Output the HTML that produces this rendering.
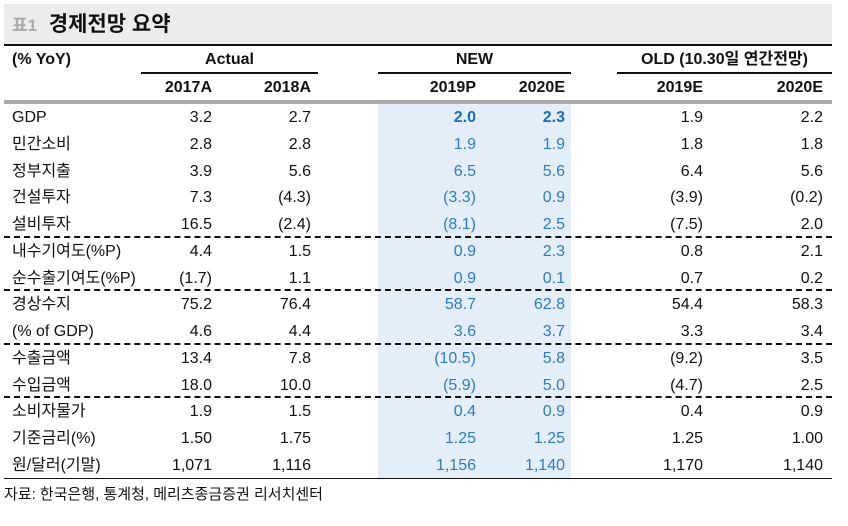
<!DOCTYPE html>
<html><head><meta charset="utf-8"><style>
body{margin:0;width:848px;height:526px;background:#fff;position:relative;overflow:hidden;font-family:"Liberation Sans","Noto Sans CJK KR",sans-serif;color:#111}
.a{position:absolute}
.t{position:absolute;font-size:16px;line-height:20px;white-space:nowrap}
.r{text-align:right}
.b{color:#2f7cc0}
.hd{font-weight:bold;font-size:16px}
.dash{position:absolute;left:4px;width:828px;height:0;border-top:2px dashed #111}
</style></head><body>
<div class="a" style="left:4px;top:4px;width:828px;height:40px;background:#ececec"></div>
<div class="t" style="left:12px;top:12px;font-size:21px;line-height:26px;font-weight:bold"><span style="color:#aaa;font-size:17px">표1</span>&nbsp; 경제전망 요약</div>
<div class="a" style="left:4px;top:44px;width:828px;height:2px;background:#111"></div>
<div class="a" style="left:378px;top:103px;width:193px;height:375px;background:#e4eef9"></div>
<div class="t hd" style="left:12px;top:50px">(% YoY)</div>
<div class="t hd" style="left:141px;width:177px;top:50px;text-align:center">Actual</div>
<div class="t hd" style="left:378px;width:193px;top:50px;text-align:center">NEW</div>
<div class="t hd" style="left:617px;width:215px;top:50px;text-align:center">OLD (10.30일 연간전망)</div>
<div class="a" style="left:141px;top:72px;width:177px;height:2px;background:#111"></div>
<div class="a" style="left:378px;top:72px;width:193px;height:2px;background:#111"></div>
<div class="a" style="left:617px;top:72px;width:215px;height:2px;background:#111"></div>
<div class="t hd r" style="left:112px;width:100px;top:78px">2017A</div>
<div class="t hd r" style="left:211px;width:100px;top:78px">2018A</div>
<div class="t hd r" style="left:376px;width:100px;top:78px">2019P</div>
<div class="t hd r" style="left:465px;width:100px;top:78px">2020E</div>
<div class="t hd r" style="left:603px;width:100px;top:78px">2019E</div>
<div class="t hd r" style="left:723px;width:100px;top:78px">2020E</div>
<div class="a" style="left:4px;top:100px;width:828px;height:4px;background:#aaa"></div>
<div id="rows"></div>
<div class="dash" style="top:236px"></div>
<div class="dash" style="top:289px"></div>
<div class="dash" style="top:343px"></div>
<div class="dash" style="top:396px"></div>
<div class="a" style="left:4px;top:478px;width:828px;height:1px;background:#111"></div>
<div class="t" style="left:4px;top:485px;font-size:15px">자료: 한국은행, 통계청, 메리츠종금증권 리서치센터</div>
<script>
var d=[["GDP","3.2","2.7","2.0","2.3","1.9","2.2"],["민간소비","2.8","2.8","1.9","1.9","1.8","1.8"],["정부지출","3.9","5.6","6.5","5.6","6.4","5.6"],["건설투자","7.3","(4.3)","(3.3)","0.9","(3.9)","(0.2)"],["설비투자","16.5","(2.4)","(8.1)","2.5","(7.5)","2.0"],["내수기여도(%P)","4.4","1.5","0.9","2.3","0.8","2.1"],["순수출기여도(%P)","(1.7)","1.1","0.9","0.1","0.7","0.2"],["경상수지","75.2","76.4","58.7","62.8","54.4","58.3"],["(% of GDP)","4.6","4.4","3.6","3.7","3.3","3.4"],["수출금액","13.4","7.8","(10.5)","5.8","(9.2)","3.5"],["수입금액","18.0","10.0","(5.9)","5.0","(4.7)","2.5"],["소비자물가","1.9","1.5","0.4","0.9","0.4","0.9"],["기준금리(%)","1.50","1.75","1.25","1.25","1.25","1.00"],["원/달러(기말)","1,071","1,116","1,156","1,140","1,170","1,140"]];
var R=[212,311,476,565,703,823],h="";
d.forEach(function(r,i){var y=108+i*26.77;h+='<div class="t" style="left:12px;top:'+y+'px">'+r[0]+'</div>';
for(var j=1;j<7;j++){var c=(j==3||j==4)?' b':'';var st=(i==0&&c)?'font-weight:bold;color:#1f6db3;':'';
h+='<div class="t r'+c+'" style="'+st+'left:'+(R[j-1]-100)+'px;width:100px;top:'+y+'px">'+r[j]+'</div>';}});
document.getElementById("rows").innerHTML=h;
</script>
</body></html>
